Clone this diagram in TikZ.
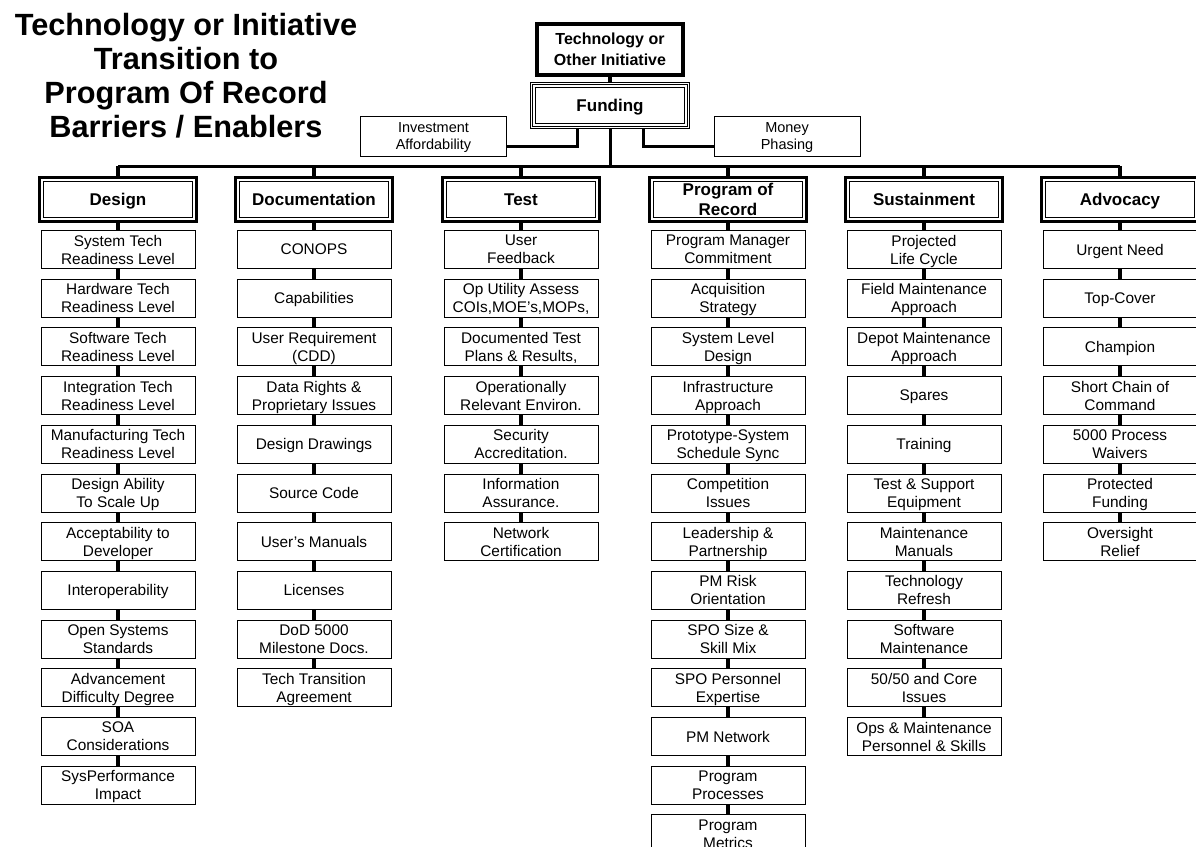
\documentclass[tikz,border=0pt]{standalone}
\usepackage{fontspec}
\setmainfont{Liberation Sans}
\usetikzlibrary{positioning}
\tikzset{item/.style = {draw, line width = 1pt, fill = white, minimum width = 154pt, minimum height = 38pt, inner sep = 0, align = center, text depth = 0pt, font = \fontsize{15.4}{18}\selectfont}}
\tikzset{side/.style = {item, minimum width = 146pt, minimum height = 40pt, font = \fontsize{14.5}{17}\selectfont}}
\tikzset{hdr/.style = {draw, line width = 3pt, fill = white, minimum width = 157pt, minimum height = 44pt, inner sep = 0, align = center, text depth = 0pt, font = \bfseries\fontsize{17}{20}\selectfont,
  path picture = {\draw [line width = 1.2pt] ([shift = {(4pt, -4pt)}]path picture bounding box.north west) rectangle ([shift = {(-4pt, 4pt)}]path picture bounding box.south east);}}}
\tikzset{fundbox/.style = {hdr, double = white, line width = 1.1pt, double distance = 0.8pt}}
\tikzset{topbox/.style = {draw, line width = 4pt, minimum width = 146pt, minimum height = 51pt, inner sep = 0, align = center, font = \bfseries\fontsize{16}{21}\selectfont}}
\tikzset{conn/.style = {line width = 3.5pt}}
\tikzset{bus/.style = {line width = 3pt}}

\newcommand{\boxcolumn}[4]{%
  \node [hdr] (#1-0) at (#2, 199.5) {#3};
  \draw [conn] (#1-0.north) -- (#1-0.north |- bus);
  \foreach \txt [count = \i, remember = \i as \j (initially 0)] in {#4} {
    \node [item] (#1-\i) at (#2, {200.8 + 48.7*\i}) {\txt};
    \draw [conn] (#1-\j.south) -- (#1-\i.north);
  }%
}

\begin{document}
\begin{tikzpicture}[x = 1pt, y = -1pt]
      \useasboundingbox (0, 0) rectangle (1196, 846);
      \clip (0, 0) rectangle (1196, 846);

      \node [anchor = base, align = center, font = \bfseries\fontsize{30.7}{34}\selectfont] (title) at (186, 137)
        {Technology or Initiative\\Transition to\\Program Of Record\\Barriers / Enablers};

      \node [topbox] (tech) at (610, 49.5) {Technology or\\Other Initiative};
      \node [fundbox] (fund) at (610, 105.5) {Funding};
      \draw [conn] (tech) -- (fund);

      \node [side] (invest) at (433.5, 136.5) {Investment\\Affordability};
      \node [side] (money) at (787, 136.5) {Money\\Phasing};
      \draw [bus] ([xshift = -33pt]fund.south) |- ([yshift = -9.5pt]invest.east);
      \draw [bus] ([xshift = 33pt]fund.south) |- ([yshift = -9.5pt]money.west);

      \coordinate (bus) at (610, 166);
      \draw [bus] (fund.south) -- (fund.south |- bus);

      \boxcolumn{des}{118}{Design}{{System Tech\\Readiness Level}, {Hardware Tech\\Readiness Level}, {Software Tech\\Readiness Level},
        {Integration Tech\\Readiness Level}, {Manufacturing Tech\\Readiness Level}, {Design Ability\\To Scale Up},
        {Acceptability to\\Developer}, {Interoperability}, {Open Systems\\Standards}, {Advancement\\Difficulty Degree},
        {SOA\\Considerations}, {SysPerformance\\Impact}}

      \boxcolumn{doc}{314}{Documentation}{{CONOPS}, {Capabilities}, {User Requirement\\(CDD)}, {Data Rights \&\\Proprietary Issues},
        {Design Drawings}, {Source Code}, {User’s Manuals}, {Licenses}, {DoD 5000\\Milestone Docs.}, {Tech Transition\\Agreement}}

      \boxcolumn{tst}{521}{Test}{{User\\Feedback}, {Op Utility Assess\\COIs,MOE’s,MOPs,}, {Documented Test\\Plans \& Results,},
        {Operationally\\Relevant Environ.}, {Security\\Accreditation.}, {Information\\Assurance.}, {Network\\Certification}}

      \boxcolumn{por}{728}{Program of\\Record}{{Program Manager\\Commitment}, {Acquisition\\Strategy}, {System Level\\Design},
        {Infrastructure\\Approach}, {Prototype-System\\Schedule Sync}, {Competition\\Issues}, {Leadership \&\\Partnership},
        {PM Risk\\Orientation}, {SPO Size \&\\Skill Mix}, {SPO Personnel\\Expertise}, {PM Network}, {Program\\Processes},
        {Program\\Metrics}}

      \boxcolumn{sus}{924}{Sustainment}{{Projected\\Life Cycle}, {Field Maintenance\\Approach}, {Depot Maintenance\\Approach},
        {Spares}, {Training}, {Test \& Support\\Equipment}, {Maintenance\\Manuals}, {Technology\\Refresh},
        {Software\\Maintenance}, {50/50 and Core\\Issues}, {Ops \& Maintenance\\Personnel \& Skills}}

      \boxcolumn{adv}{1120}{Advocacy}{{Urgent Need}, {Top-Cover}, {Champion}, {Short Chain of\\Command},
        {5000 Process\\Waivers}, {Protected\\Funding}, {Oversight\\Relief}}

      \draw [bus] (des-0.north |- bus) -- (adv-0.north |- bus);
    \end{tikzpicture}
\end{document}
